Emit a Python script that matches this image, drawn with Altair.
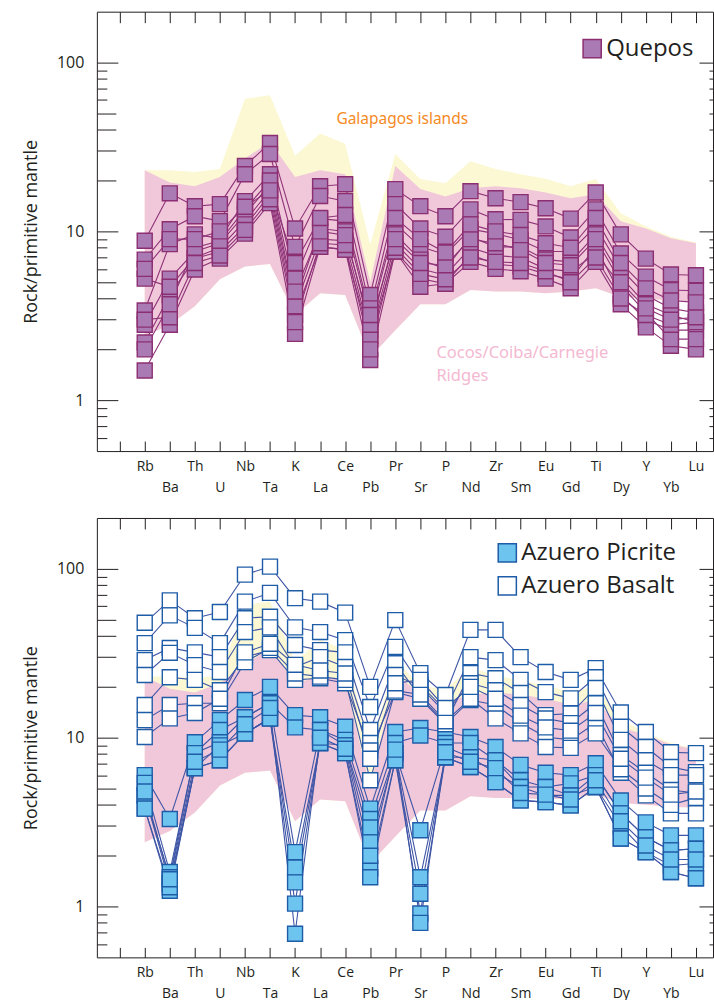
import altair as alt
import pandas as pd

# ---------------------------------------------------------------- data
ELEMENTS = ["Rb", "Ba", "Th", "U", "Nb", "Ta", "K", "La", "Ce", "Pb", "Pr", "Sr",
            "P", "Nd", "Zr", "Sm", "Eu", "Gd", "Ti", "Dy", "Y", "Yb", "Lu"]

# reference fields (rock / primitive mantle)
GALAPAGOS_HI = [23, 23, 22.5, 23.4, 61, 64, 28, 38, 33, 8.4, 28.7, 20.4,
                19.3, 26, 23.4, 21.8, 20.5, 18.5, 20.4, 12.8, 10.7, 9.3, 8.6]
RIDGES_HI = [23, 19.5, 18.5, 21, 27, 34, 21, 23, 21.8, 5.0, 24.4, 17.8,
             16.1, 18, 18.5, 18, 17, 15.7, 16.6, 11.5, 10.4, 9.1, 8.5]
RIDGES_LO = [2.4, 2.8, 3.6, 5.2, 6.2, 6.4, 3.2, 4.3, 4.2, 1.8, 2.6, 3.7,
             3.7, 4.5, 4.4, 4.4, 4.3, 4.4, 4.6, 4.1, 4.0, 3.9, 3.85]

FIELD_NAMES = ["Galapagos islands", "Cocos/Coiba/Carnegie", "Ridges"]

QUEPOS = {
    "Q1": [8.8, 16.8, 14.1, 14.5, 24.4, 33.4, 10.4, 18.5, 19.0, 4.2, 17.8, 14.1, 12.3, 17.3, 15.7, 14.9, 13.7, 11.9, 17.0, 9.6, 6.9, 5.55, 5.5],
    "Q2": [6.8, 10.3, 12.3, 11.5, 21.8, 28.7, 8.1, 16.2, 15.1, 3.5, 14.5, 10.4, 9.3, 13.5, 11.8, 11.7, 10.7, 9.2, 13.5, 7.4, 5.4, 4.5, 4.45],
    "Q3": [3.4, 8.4, 9.6, 9.1, 15.1, 21.8, 5.25, 11.9, 11.5, 3.0, 11.1, 8.1, 7.3, 10.3, 9.7, 8.9, 7.6, 7.6, 10.7, 6.0, 4.2, 3.5, 3.3],
    "Q4": [2.8, 5.25, 7.6, 8.5, 12.6, 19.0, 3.83, 10.4, 10.0, 2.6, 9.6, 6.8, 6.0, 9.3, 8.1, 8.1, 6.8, 6.6, 9.6, 5.4, 3.7, 3.2, 2.9],
    "Q5": [2.2, 4.2, 6.9, 7.6, 10.7, 16.6, 3.2, 8.1, 7.8, 2.3, 7.6, 5.25, 4.9, 7.3, 6.4, 6.2, 5.6, 5.2, 8.1, 4.2, 3.0, 2.6, 2.6],
    "Q6": [1.5, 2.8, 5.95, 6.9, 9.7, 14.7, 2.47, 8.1, 7.8, 1.73, 7.6, 4.7, 4.9, 6.6, 6.0, 5.8, 5.25, 4.6, 6.6, 3.7, 2.7, 2.1, 2.0],
    "Q7": [5.25, 4.7, 7.0, 8.0, 11.5, 17.5, 3.6, 9.0, 8.8, 2.4, 8.5, 6.0, 5.5, 8.0, 7.2, 7.0, 6.0, 5.8, 7.4, 4.8, 3.3, 2.3, 2.3],
    "Q8": [3.0, 3.1, 6.5, 7.2, 10.2, 15.5, 2.9, 8.5, 8.3, 2.0, 8.0, 5.6, 5.2, 7.0, 6.6, 6.5, 5.8, 5.0, 7.0, 4.0, 3.2, 2.8, 2.9],
    "Q9": [2.0, 3.7, 8.0, 8.8, 13.5, 20.0, 4.4, 10.0, 9.5, 2.8, 9.0, 6.5, 6.3, 9.0, 8.5, 7.8, 6.5, 6.3, 9.0, 5.0, 3.5, 3.0, 3.1],
    "Q10": [6.0, 9.0, 9.0, 10.0, 14.0, 17.5, 6.5, 12.0, 12.5, 3.2, 12.0, 9.0, 7.5, 11.0, 10.0, 9.5, 8.5, 8.0, 12.0, 6.5, 4.6, 3.9, 3.8],
}

AZUERO_PICRITE = {
    "P1": [6.0, 3.3, 9.4, 12.7, 16.7, 20.0, 13.6, 13.2, 11.6, 3.8, 10.8, 11.4, 10.8, 10.1, 8.8, 6.9, 6.2, 6.0, 7.05, 4.25, 3.15, 2.64, 2.64],
    "P2": [5.4, 1.6, 8.1, 11.1, 13.2, 16.0, 11.5, 11.1, 9.7, 3.3, 9.3, 10.3, 9.3, 9.3, 7.35, 5.6, 5.1, 5.36, 6.0, 3.56, 2.57, 2.15, 2.2],
    "P3": [4.55, 1.49, 8.1, 9.4, 13.2, 16.0, 2.1, 11.1, 9.0, 2.94, 8.1, 2.83, 8.8, 7.65, 7.35, 5.1, 5.1, 4.55, 6.0, 3.56, 2.57, 2.15, 2.2],
    "P4": [4.55, 1.37, 6.6, 9.0, 10.6, 13.0, 1.7, 9.3, 9.0, 2.4, 8.1, 1.49, 7.65, 7.65, 6.2, 5.1, 4.55, 4.55, 5.1, 3.0, 2.1, 1.75, 1.8],
    "P5": [3.8, 1.24, 6.6, 7.35, 10.6, 13.0, 1.39, 9.3, 8.1, 1.68, 7.35, 1.19, 7.65, 6.7, 5.45, 4.25, 4.15, 3.97, 5.1, 2.53, 2.1, 1.6, 1.47],
    "P6": [3.8, 1.3, 6.6, 7.35, 10.6, 13.0, 1.04, 9.3, 8.1, 1.49, 7.35, 0.91, 7.65, 6.7, 5.45, 4.25, 4.15, 3.97, 5.1, 2.53, 2.1, 1.6, 1.47],
    "P7": [4.8, 1.45, 7.2, 8.5, 12.0, 15.0, 0.69, 10.0, 8.6, 2.0, 8.5, 0.8, 8.2, 7.2, 6.6, 4.7, 4.6, 4.3, 5.6, 3.2, 2.3, 1.9, 1.9],
}

AZUERO_BASALT = {
    "B1": [47.9, 65, 51, 55.5, 92.4, 103, 67, 63.9, 55, 20, 49.7, 24.1, 17.9, 43.5, 43.5, 30, 24.5, 22, 25.8, 14.1, 10.8, 8.2, 8.1],
    "B2": [36.3, 53, 44.7, 36.3, 63.9, 72, 45, 42.2, 37.8, 15.2, 34.5, 20.5, 14.6, 30, 28.8, 22, 18.6, 17.1, 22.8, 11.6, 8.8, 6.7, 6.25],
    "B3": [28.8, 34, 32, 30, 51, 52, 35.4, 33, 32, 11.1, 27.6, 17.4, 12.2, 24.1, 22.5, 18.4, 13.6, 13.9, 19.7, 9.7, 7.35, 6.0, 6.0],
    "B4": [23.5, 31.8, 26.9, 24.5, 42.2, 45, 26.2, 30, 26.2, 9.3, 23.5, 20.0, 14.0, 21, 19.1, 15.6, 13.0, 12.2, 16.0, 7.9, 6.2, 4.9, 4.7],
    "B5": [15.6, 22.8, 22, 19.1, 30, 33, 22, 22.5, 21, 8.4, 18.6, 17.0, 12.0, 16.7, 15.6, 12.2, 10.1, 9.7, 12.2, 6.2, 4.55, 3.56, 3.56],
    "B6": [12.7, 15.6, 16, 16, 28, 34, 24, 23, 22, 5.6, 19, 18, 12.5, 17, 13, 10.6, 8.8, 8.7, 10.6, 6.5, 5.0, 4.0, 4.4],
    "B7": [10.1, 13, 14, 17, 32, 36, 27, 25, 24, 7.5, 21, 22, 15, 20, 17, 13.5, 11.5, 11, 14, 7.5, 5.8, 4.6, 4.8],
}

# ---------------------------------------------------------------- style
W, H = 617, 440
X_DOMAIN = [-1.91, 22.68]
Y_DOMAIN = [0.5, 200]
Y_TICKS = [0.6, 0.7, 0.8, 0.9, 1, 2, 3, 4, 5, 6, 7, 8, 9,
           10, 20, 30, 40, 50, 60, 70, 80, 90, 100]
INK = "#231F20"
FONT = "Open Sans"
NOTE_FONT = "Noto Sans"
YELLOW = "#FBF8D3"
PINK = "#F1C7DA"

MAJOR_TEST = "datum.value == 1 || datum.value == 10 || datum.value == 100"
MID_TEST = "indexof([2, 3, 4, 5, 20, 30, 40, 50], datum.value) >= 0"

bands = pd.DataFrame({
    "idx": list(range(len(ELEMENTS))),
    "element": ELEMENTS,
    "gal_hi": GALAPAGOS_HI,
    "rid_hi": RIDGES_HI,
    "rid_lo": RIDGES_LO,
})


def long_table(samples, suite):
    rows = []
    for name, vals in samples.items():
        for i, v in enumerate(vals):
            rows.append({"idx": i, "element": ELEMENTS[i], "value": v,
                         "sample": name, "suite": suite})
    return pd.DataFrame(rows)


def xscale():
    return alt.Scale(domain=X_DOMAIN, nice=False, zero=False)


def yscale():
    return alt.Scale(type="log", domain=Y_DOMAIN, nice=False)


names_js = "[" + ",".join(f"'{e}'" for e in ELEMENTS) + "]"
LABEL_EXPR = (f"datum.value % 2 == 0 ? {names_js}[datum.value] "
              f": ['', {names_js}[datum.value]]")

# axes of the main layer: element names below, numbers + title on the left
X_AXIS = alt.Axis(values=list(range(len(ELEMENTS))), labelExpr=LABEL_EXPR,
                  ticks=False, domain=False, grid=False, labelFont=FONT,
                  labelFontSize=14, labelColor=INK, labelPadding=8,
                  labelLineHeight=21, labelOverlap=False, labelFlush=False)
Y_AXIS = alt.Axis(values=[1, 10, 100], format="d", ticks=False, domain=False,
                  grid=False, labelFont=FONT, labelFontSize=16, labelColor=INK,
                  labelPadding=13, title="Rock/primitive mantle",
                  titleFont=FONT, titleFontSize=18, titleFontWeight="normal",
                  titleColor=INK, titlePadding=16)

# inward ticks on the left and bottom edges
X_TICKS_BOTTOM = alt.Axis(orient="top", offset=-H, labels=False, domain=False,
                          grid=False, values=list(range(-1, len(ELEMENTS))),
                          tickSize=10, tickColor=INK, tickWidth=1)
Y_TICKS_LEFT = alt.Axis(orient="right", offset=-W, labels=False, domain=False,
                        grid=False, values=Y_TICKS, tickColor=INK, tickWidth=1,
                        tickSize={"condition": [{"test": MAJOR_TEST, "value": 21},
                                                {"test": MID_TEST, "value": 19}],
                                  "value": 10})
# inward ticks on the top and right edges
X_TICKS_TOP = alt.Axis(orient="bottom", offset=-H, labels=False, domain=False,
                       grid=False, values=list(range(-1, len(ELEMENTS))),
                       tickSize=11, tickColor=INK, tickWidth=1)
Y_TICKS_RIGHT = alt.Axis(orient="left", offset=-W, labels=False, domain=False,
                         grid=False, values=Y_TICKS, tickColor=INK, tickWidth=1,
                         tickSize={"condition": {"test": MAJOR_TEST, "value": 14},
                                   "value": 4})


def X(field="idx:Q"):
    return alt.X(field, scale=xscale(), axis=X_AXIS, title=None)


def Y(field):
    return alt.Y(field, scale=yscale(), axis=Y_AXIS)


def panel(samples, suites, fills, stroke, line_color, legend_xy, notes):
    pts = pd.concat([long_table(s, n) for s, n in zip(samples, suites)],
                    ignore_index=True)

    galapagos = alt.Chart(bands).mark_area(color=YELLOW, opacity=1).encode(
        x=X(), y=Y("rid_lo:Q"), y2="gal_hi:Q")
    ridges = alt.Chart(bands).mark_area(color=PINK, opacity=1).encode(
        x=X(), y=Y("rid_lo:Q"), y2="rid_hi:Q")

    layers = [galapagos, ridges]
    layers += notes

    lines = alt.Chart(pts).mark_line(color=line_color, strokeWidth=1.1).encode(
        x=X(), y=Y("value:Q"), detail="sample:N", order="idx:Q")
    squares = alt.Chart(pts).mark_square(
        size=225, stroke=stroke, strokeWidth=1.4, opacity=1).encode(
        x=X(), y=Y("value:Q"), detail="sample:N",
        fill=alt.Fill("suite:N",
                      scale=alt.Scale(domain=suites, range=fills),
                      legend=alt.Legend(title=None, orient="none",
                                        legendX=legend_xy[0], legendY=legend_xy[1],
                                        symbolType="square", symbolSize=330,
                                        symbolStrokeColor=stroke,
                                        symbolStrokeWidth=1.5, symbolOpacity=1,
                                        labelFont=FONT, labelFontSize=24,
                                        labelColor=INK, labelOffset=2,
                                        rowPadding=7)))
    layers += [lines, squares]
    main = alt.layer(*layers)

    ticks_a = alt.Chart(bands).mark_point(opacity=0).encode(
        x=alt.X("idx:Q", scale=xscale(), axis=X_TICKS_BOTTOM, title=None),
        y=alt.Y("rid_lo:Q", scale=yscale(), axis=Y_TICKS_LEFT, title=None))
    ticks_b = alt.Chart(bands).mark_point(opacity=0).encode(
        x=alt.X("idx:Q", scale=xscale(), axis=X_TICKS_TOP, title=None),
        y=alt.Y("rid_lo:Q", scale=yscale(), axis=Y_TICKS_RIGHT, title=None))

    return alt.layer(main, ticks_a, ticks_b).resolve_scale(
        x="independent", y="independent").properties(width=W, height=H)


# field names, one text mark each
galapagos_note = alt.Chart(pd.DataFrame({"name": [FIELD_NAMES[0]]})).mark_text(
    align="left", baseline="middle", font=NOTE_FONT, fontSize=15.5,
    fontWeight="normal", color="#F58A24").encode(
    text="name:N",
    x=alt.X(datum=7.65, scale=xscale(), axis=X_AXIS, title=None),
    y=alt.Y(datum=46, scale=yscale(), axis=Y_AXIS))
ridges_note = alt.Chart(pd.DataFrame({"name": [FIELD_NAMES[1]]})).mark_text(
    text=FIELD_NAMES[1:], align="left", baseline="middle",
    font=NOTE_FONT, fontSize=16.5, fontWeight="normal", lineHeight=23,
    color="#F4B8D1").encode(
    x=alt.X(datum=11.64, scale=xscale(), axis=X_AXIS, title=None),
    y=alt.Y(datum=1.9, scale=yscale(), axis=Y_AXIS))

top = panel([QUEPOS], ["Quepos"], ["#A97AB3"], "#8C2F72", "#8E3378",
            (484, 25), [galapagos_note, ridges_note])
bottom = panel([AZUERO_PICRITE, AZUERO_BASALT],
               ["Azuero Picrite", "Azuero Basalt"], ["#6DC4EE", "#FFFFFF"],
               "#1F5CA8", "#3F56A6", (399, 23), [])

chart = alt.vconcat(top, bottom, spacing=22).resolve_scale(
    fill="independent").resolve_legend(fill="independent").properties(
    padding={"left": 22, "top": 10, "right": 0, "bottom": 0}
).configure_view(stroke=INK, strokeWidth=1)

chart.save("out.html", embed_options={"renderer": "svg", "actions": False})
